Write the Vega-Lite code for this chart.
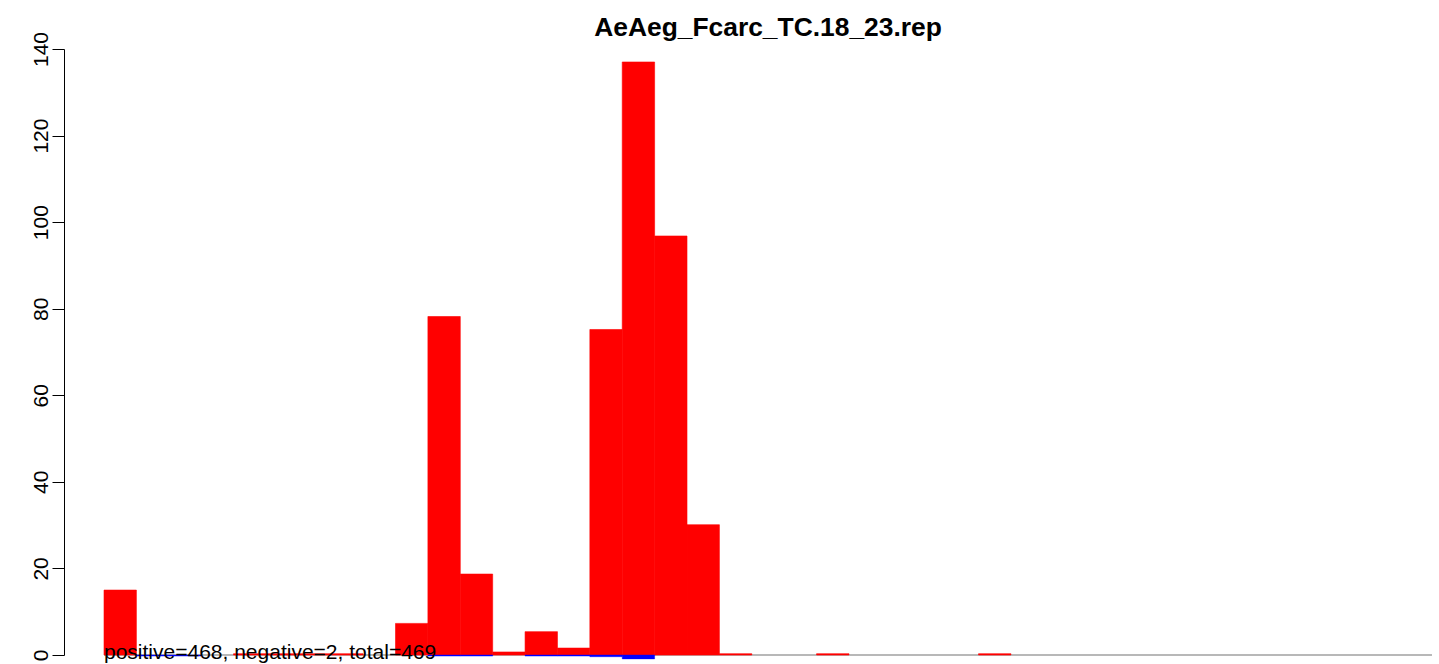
{
  "$schema": "https://vega.github.io/schema/vega-lite/v6.json",
  "width": 1375,
  "height": 606,
  "autosize": {"type": "none"},
  "padding": {"left": 64, "top": 49, "right": 0, "bottom": 9},
  "title": {"text": "AeAeg_Fcarc_TC.18_23.rep", "font": "Liberation Sans", "fontSize": 26.4, "fontWeight": "bold", "color": "black", "anchor": "middle", "dx": 16.5, "baseline": "alphabetic", "offset": -31},
  "config": {"view": {"stroke": null}},
  "datasets": {
    "pos": [
      {"lo": 0, "hi": 1, "value": 15},
      {"lo": 4, "hi": 5, "value": 0.3},
      {"lo": 5, "hi": 6, "value": 0.3},
      {"lo": 6, "hi": 7, "value": 0.3},
      {"lo": 7, "hi": 8, "value": 0.3},
      {"lo": 9, "hi": 10, "value": 7.3},
      {"lo": 10, "hi": 11, "value": 78.2},
      {"lo": 11, "hi": 12, "value": 18.7},
      {"lo": 12, "hi": 13, "value": 0.7},
      {"lo": 13, "hi": 14, "value": 5.4},
      {"lo": 14, "hi": 15, "value": 1.6},
      {"lo": 15, "hi": 16, "value": 75.2},
      {"lo": 16, "hi": 17, "value": 137},
      {"lo": 17, "hi": 18, "value": 96.8},
      {"lo": 18, "hi": 19, "value": 30.1},
      {"lo": 19, "hi": 20, "value": 0.3},
      {"lo": 22, "hi": 23, "value": 0.3},
      {"lo": 27, "hi": 28, "value": 0.3}
    ],
    "neg": [
      {"lo": 1, "hi": 2, "value": -0.25},
      {"lo": 2, "hi": 3, "value": -0.25},
      {"lo": 10, "hi": 11, "value": -0.25},
      {"lo": 11, "hi": 12, "value": -0.25},
      {"lo": 13, "hi": 14, "value": -0.25},
      {"lo": 14, "hi": 15, "value": -0.25},
      {"lo": 15, "hi": 16, "value": -0.4},
      {"lo": 16, "hi": 17, "value": -0.9}
    ],
    "base": [{"lo": 0, "hi": 41, "value": 0}],
    "note": [{"lo": 0, "value": 0, "label": "positive=468, negative=2, total=469"}]
  },
  "encoding": {
    "x": {"field": "lo", "type": "quantitative", "scale": {"domain": [-1.235, 41.217], "nice": false, "zero": false}, "axis": null},
    "y": {"field": "value", "type": "quantitative", "scale": {"domain": [0, 140], "nice": false}, "axis": {"title": null, "values": [0, 20, 40, 60, 80, 100, 120, 140], "grid": false, "labelAngle": 270, "labelAlign": "center", "labelBaseline": "alphabetic", "labelFont": "Liberation Sans", "labelFontSize": 21, "labelColor": "black", "tickColor": "black", "domainColor": "black", "tickSize": 12, "labelPadding": 4.5, "tickWidth": 1, "domainWidth": 1}}
  },
  "layer": [
    {"data": {"name": "base"}, "mark": {"type": "rule", "color": "#a0a0a0", "strokeWidth": 1.5}, "encoding": {"x2": {"field": "hi"}}},
    {"data": {"name": "pos"}, "mark": {"type": "bar", "color": "#ff0000", "stroke": "#ff0000", "strokeWidth": 0.6}, "encoding": {"x2": {"field": "hi"}, "y2": {"datum": 0}}},
    {"data": {"name": "neg"}, "mark": {"type": "bar", "color": "#0000ff", "stroke": "#0000ff", "strokeWidth": 0.4}, "encoding": {"x2": {"field": "hi"}, "y2": {"datum": 0}}},
    {"data": {"name": "note"}, "mark": {"type": "text", "align": "left", "baseline": "alphabetic", "dy": 4, "font": "Liberation Sans", "fontSize": 21, "color": "black"}, "encoding": {"text": {"field": "label"}}}
  ]
}
